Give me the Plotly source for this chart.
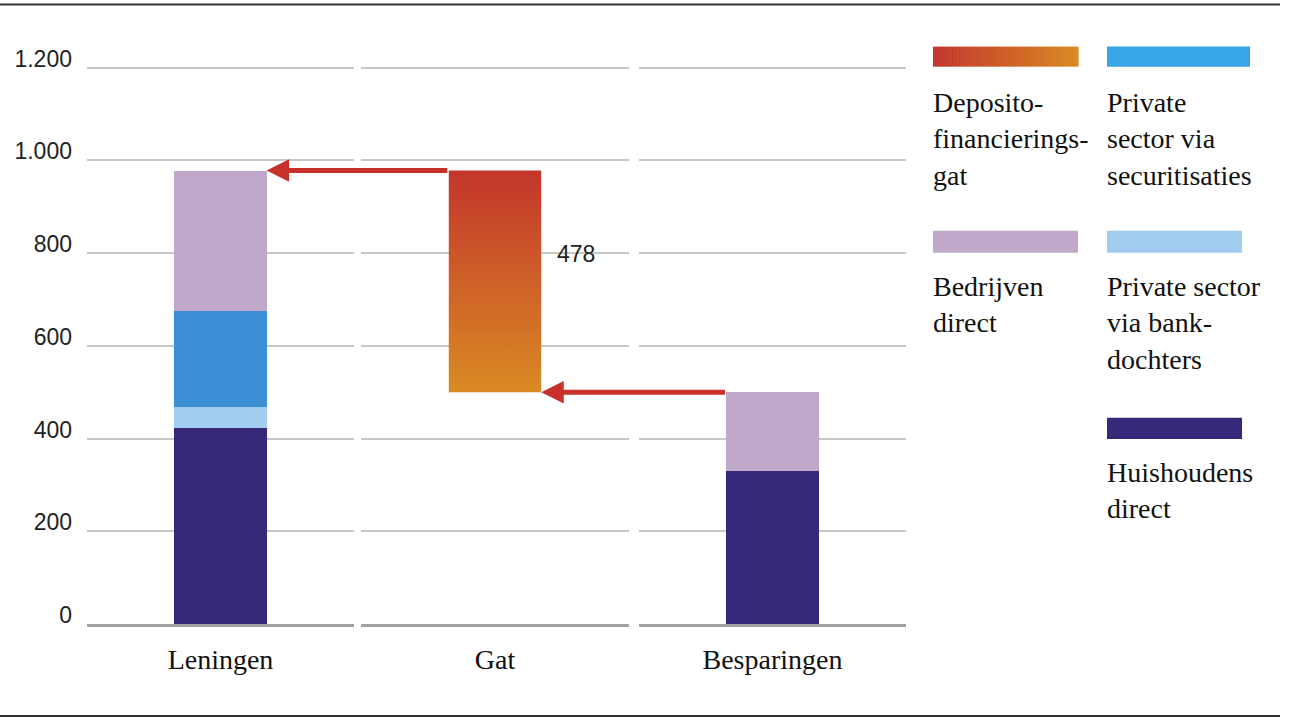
import plotly.graph_objects as go

# ---------------- data ----------------
categories = ["Leningen", "Gat", "Besparingen"]
series_names = ["Huishoudens direct", "Private sector via bank-dochters",
                "Private sector via securitisaties", "Bedrijven direct"]
leningen_values = [422, 46, 207, 303]      # stacked, bottom -> top
besparingen_values = [330, 0, 0, 170]      # stacked, bottom -> top
y_ticks = [0, 200, 400, 600, 800, 1000, 1200]

series_colors = ["#37297a", "#a3cdf0", "#3b8fd5", "#bfa8ca"]
gap_bottom_color = "#d98a24"
gap_top_color = "#c3362b"
arrow_color = "#c8302a"

leningen_total = sum(leningen_values)
besparingen_total = sum(besparingen_values)
gap_value = leningen_total - besparingen_total

# ---------------- layout geometry ----------------
FW, FH = 1289, 720
Y_MAX = 1210
zero_px, top_tick_px = 624, 68
PH = (zero_px - top_tick_px) * Y_MAX / 1200
MT = zero_px - PH
MB = FH - zero_px
ML, MR = 85, 10
PW = FW - ML - MR

def px_x(p):
    return (p - ML) / PW

def px_y(p):
    return (zero_px - p) / PH

domains = [[px_x(87), px_x(354)], [px_x(361), px_x(629)], [px_x(639), px_x(906)]]
BW = 0.345  # bar width as fraction of a category slot

def to_pixel(axis_i, v):
    d0, d1 = domains[axis_i]
    return ML + (d0 + (v + 0.5) * (d1 - d0)) * PW

SANS = "Liberation Sans"
SERIF = "Liberation Serif"

fig = go.Figure()

# Leningen stack (axis 1)
for name, val, col in zip(series_names, leningen_values, series_colors):
    fig.add_trace(go.Bar(x=[0], y=[val], width=BW, name=name, marker_color=col,
                         marker_line_width=0, xaxis="x", yaxis="y", showlegend=False))

# Besparingen stack (axis 3)
for name, val, col in zip(series_names, besparingen_values, series_colors):
    if val:
        fig.add_trace(go.Bar(x=[0], y=[val], width=BW, name=name, marker_color=col,
                             marker_line_width=0, xaxis="x3", yaxis="y3", showlegend=False))

# Gat: floating bar with vertical gradient (axis 2)
fig.add_trace(go.Scatter(
    x=[-BW / 2, BW / 2, BW / 2, -BW / 2, -BW / 2],
    y=[besparingen_total, besparingen_total, leningen_total, leningen_total, besparingen_total],
    mode="lines", line=dict(width=0), fill="toself",
    fillgradient=dict(type="vertical",
                      colorscale=[[0, gap_bottom_color], [1, gap_top_color]],
                      start=besparingen_total, stop=leningen_total),
    xaxis="x2", yaxis="y2", showlegend=False, hoverinfo="skip"))

axis_common = dict(range=[-0.5, 0.5], tickvals=[0], showgrid=False, zeroline=False,
                   showline=True, linecolor="#a0a0a0", linewidth=2.5, ticks="",
                   tickfont=dict(family=SERIF, size=28, color="#111"),
                   ticklabelstandoff=9, fixedrange=True)
yaxis_common = dict(range=[0, Y_MAX], tickvals=y_ticks, showgrid=True,
                    gridcolor="#c8c8c8", gridwidth=2, zeroline=False, showline=False,
                    fixedrange=True)

layout = dict(
    width=FW, height=FH,
    margin=dict(l=ML, r=MR, t=MT, b=MB),
    paper_bgcolor="white", plot_bgcolor="white",
    barmode="stack", separators=",.",
    showlegend=False,
    xaxis=dict(domain=domains[0], anchor="y", ticktext=[categories[0]], **axis_common),
    xaxis2=dict(domain=domains[1], anchor="y2", ticktext=[categories[1]], **axis_common),
    xaxis3=dict(domain=domains[2], anchor="y3", ticktext=[categories[2]], **axis_common),
    yaxis=dict(anchor="x", tickformat=",d", ticklabelposition="outside",
               ticklabelshift=-9,
               tickfont=dict(family=SANS, size=23, color="#222"),
               ticklabelstandoff=14, **yaxis_common),
    yaxis2=dict(anchor="x2", matches="y", showticklabels=False, **yaxis_common),
    yaxis3=dict(anchor="x3", matches="y", showticklabels=False, **yaxis_common),
)
fig.update_layout(**layout)

# ---------------- arrows ----------------
annotations = []
head1 = to_pixel(0, BW / 2)
tail1 = to_pixel(1, -BW / 2)
annotations.append(dict(x=BW / 2, y=leningen_total, xref="x", yref="y",
                        ax=tail1 - head1, ay=0, axref="pixel", ayref="pixel",
                        text="", showarrow=True, arrowhead=2, arrowsize=0.9,
                        arrowwidth=5, arrowcolor=arrow_color, standoff=0))
head2 = to_pixel(1, BW / 2)
tail2 = to_pixel(2, -BW / 2)
annotations.append(dict(x=BW / 2, y=besparingen_total, xref="x2", yref="y2",
                        ax=tail2 - head2, ay=0, axref="pixel", ayref="pixel",
                        text="", showarrow=True, arrowhead=2, arrowsize=0.9,
                        arrowwidth=5, arrowcolor=arrow_color, standoff=0))
annotations.append(dict(x=BW / 2, y=(leningen_total + besparingen_total) / 2,
                        xref="x2", yref="y2", xanchor="left", yanchor="middle",
                        xshift=14, yshift=27, showarrow=False, text=str(gap_value),
                        font=dict(family=SANS, size=23, color="#222")))

# ---------------- custom legend ----------------
shapes = []
legend_items = [
    (933, 1078, 47, 67, "Deposito-<br>financierings-<br>gat", 85, None),
    (1107, 1250, 47, 67, "Private<br>sector via<br>securitisaties", 85, "#37a5e8"),
    (933, 1078, 231, 253, "Bedrijven<br>direct", 269, series_colors[3]),
    (1107, 1242, 231, 253, "Private sector<br>via bank-<br>dochters", 269, series_colors[1]),
    (1107, 1242, 418, 439, "Huishoudens<br>direct", 455, series_colors[0]),
]

def hex_to_rgb(h):
    h = h.lstrip("#")
    return tuple(int(h[i:i + 2], 16) for i in (0, 2, 4))

for x0, x1, y0, y1, txt, ttop, col in legend_items:
    if col is None:
        n = 48
        c0, c1 = hex_to_rgb(gap_top_color), hex_to_rgb(gap_bottom_color)
        step = (x1 - x0) / n
        for i in range(n):
            t = i / (n - 1)
            c = tuple(round(a + (b - a) * t) for a, b in zip(c0, c1))
            shapes.append(dict(type="rect", xref="paper", yref="paper",
                               x0=px_x(x0 + i * step), x1=px_x(x0 + (i + 1) * step + 0.6),
                               y0=px_y(y1), y1=px_y(y0), line=dict(width=0),
                               fillcolor="rgb(%d,%d,%d)" % c, layer="above"))
    else:
        shapes.append(dict(type="rect", xref="paper", yref="paper",
                           x0=px_x(x0), x1=px_x(x1), y0=px_y(y1), y1=px_y(y0),
                           line=dict(width=0), fillcolor=col, layer="above"))
    annotations.append(dict(x=px_x(x0 - 2), y=px_y(ttop), xref="paper", yref="paper",
                            xanchor="left", yanchor="top", align="left", showarrow=False,
                            text=txt, font=dict(family=SERIF, size=28, color="#111")))

for yp in (5, 716):
    shapes.append(dict(type="line", xref="paper", yref="paper",
                       x0=px_x(0), x1=px_x(1280), y0=px_y(yp), y1=px_y(yp),
                       line=dict(color="#333", width=2)))

fig.update_layout(shapes=shapes, annotations=annotations)

fig.write_html("out.html", config={"displayModeBar": False},
               post_script="document.body.style.margin='0px';document.body.style.overflow='hidden';")
